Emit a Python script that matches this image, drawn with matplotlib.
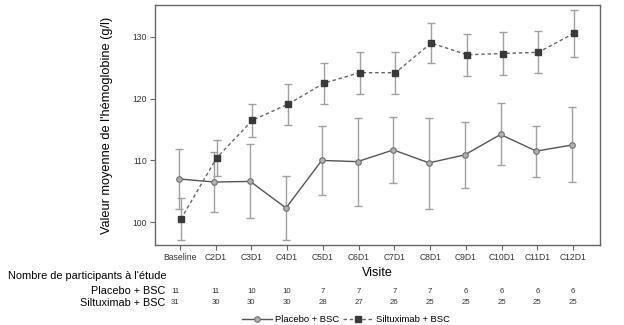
"""Hemoglobin mean over visits, placebo vs siltuximab."""
import numpy as np
import matplotlib.pyplot as plt

plt.rcParams["font.family"] = ["Liberation Sans Narrow", "Liberation Sans", "DejaVu Sans"]

visits = ["Baseline", "C2D1", "C3D1", "C4D1", "C5D1", "C6D1", "C7D1",
          "C8D1", "C9D1", "C10D1", "C11D1", "C12D1"]

placebo_mean = [107.0, 106.5, 106.6, 102.3, 110.0, 109.8, 111.7, 109.6, 110.9, 114.2, 111.5, 112.5]
placebo_hi = [111.9, 111.4, 112.6, 107.5, 115.5, 116.9, 117.1, 116.9, 116.2, 119.3, 115.6, 118.6]
placebo_lo = [102.2, 101.7, 100.7, 97.1, 104.4, 102.7, 106.3, 102.2, 105.5, 109.2, 107.3, 106.5]

silt_mean = [100.5, 110.4, 116.5, 119.1, 122.5, 124.2, 124.2, 129.0, 127.1, 127.3, 127.5, 130.6]
silt_hi = [103.9, 113.3, 119.1, 122.4, 125.8, 127.5, 127.6, 132.3, 130.5, 130.8, 130.9, 134.4]
silt_lo = [97.1, 107.4, 113.8, 115.8, 119.2, 120.8, 120.8, 125.7, 123.6, 123.9, 124.2, 126.8]

n_placebo = [11, 11, 10, 10, 7, 7, 7, 7, 6, 6, 6, 6]
n_silt = [31, 30, 30, 30, 28, 27, 26, 25, 25, 25, 25, 25]

x = np.arange(len(visits))
fig = plt.figure(figsize=(6.24, 3.25), dpi=100)
ax = fig.add_axes([0.248, 0.246, 0.7135, 0.7395])

pm, sm = np.array(placebo_mean), np.array(silt_mean)
ax.errorbar(x - 0.03, pm, yerr=[pm - placebo_lo, np.array(placebo_hi) - pm], fmt="none",
            ecolor="#a0a0a0", elinewidth=1.0, capsize=3, capthick=1.0, zorder=2)
ax.errorbar(x + 0.03, sm, yerr=[sm - silt_lo, np.array(silt_hi) - sm], fmt="none",
            ecolor="#a0a0a0", elinewidth=1.0, capsize=3, capthick=1.0, zorder=2)
ax.plot(x - 0.03, pm, color="#555555", lw=1.0, marker="o", ms=4, mfc="#b0b0b0",
        mec="#707070", mew=0.8, label="Placebo + BSC", zorder=3)
ax.plot(x + 0.03, sm, color="#666666", lw=1.0, ls=(0, (2.5, 2)), marker="s", ms=4,
        mfc="#3a3a3a", mec="#3a3a3a", label="Siltuximab + BSC", zorder=3)

ax.set_xlim(-0.7, 11.75)
ax.set_ylim(96.3, 135.2)
ax.set_yticks([100, 110, 120, 130])
ax.set_xticks(x, visits)
ax.tick_params(axis="both", labelsize=6.2, length=3.5, width=0.8, color="#666666",
               labelcolor="#333333", pad=2)
for s in ax.spines.values():
    s.set_color("#666666")
    s.set_linewidth(1.0)
ax.set_ylabel("Valeur moyenne de l'hémoglobine (g/l)", fontsize=9.2, labelpad=14)
ax.set_xlabel("Visite", fontsize=9, labelpad=4)

# participant counts table below the axes
fig.text(8 / 624, 1 - 276 / 325, "Nombre de participants à l'étude", fontsize=7.9,
         ha="left", va="center")
for row, (label, counts) in enumerate([("Placebo + BSC", n_placebo), ("Siltuximab + BSC", n_silt)]):
    yfig = 1 - (291.5 + 11.5 * row) / 325
    fig.text(165 / 624, yfig, label, fontsize=7.8, ha="right", va="center")
    for xi, c in zip(x, counts):
        xd = fig.transFigure.inverted().transform(ax.transData.transform((xi - 0.12 * (xi == 0), 0)))[0]
        fig.text(xd, yfig, str(c), fontsize=5.6, ha="center", va="center", color="#333333")

fig.legend(loc="center", bbox_to_anchor=(346 / 624, 1 - 320 / 325), ncol=2, frameon=False,
           fontsize=6.8, handlelength=3.2, handletextpad=0.3, columnspacing=0.4,
           borderaxespad=0, borderpad=0)

fig.savefig("out.png", dpi=100)
